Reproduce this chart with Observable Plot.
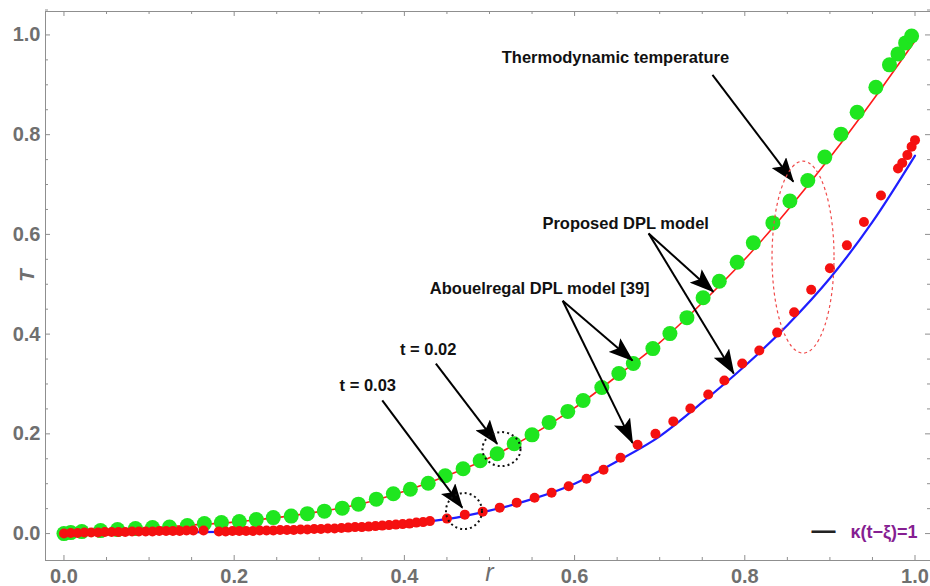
<!DOCTYPE html>
<html>
<head>
<meta charset="utf-8">
<script src="https://cdn.jsdelivr.net/npm/d3@7"></script>
<script src="https://cdn.jsdelivr.net/npm/@observablehq/plot@0.6"></script>
<style>
  html, body { margin: 0; padding: 0; background: #fff; }
  svg { display: block; }
</style>
</head>
<body>
<div id="chart"></div>
<script>
// Proposed DPL model, t = 0.02 (green dots)
const greenR = [0.000, 0.008, 0.021, 0.043, 0.063, 0.084, 0.104, 0.124, 0.145, 0.165,
  0.185, 0.206, 0.226, 0.246, 0.267, 0.286, 0.306, 0.327, 0.346, 0.367,
  0.387, 0.407, 0.428, 0.448, 0.469, 0.489, 0.509, 0.529, 0.550, 0.570,
  0.592, 0.610, 0.632, 0.652, 0.669, 0.692, 0.712, 0.732, 0.751, 0.770,
  0.791, 0.810, 0.833, 0.853, 0.874, 0.894, 0.913, 0.932, 0.954, 0.970,
  0.980, 0.989, 0.996];
const greenT = [0.000, 0.002, 0.004, 0.006, 0.008, 0.010, 0.012, 0.013, 0.016, 0.020,
  0.022, 0.024, 0.028, 0.032, 0.035, 0.040, 0.045, 0.051, 0.059, 0.069,
  0.080, 0.089, 0.101, 0.116, 0.130, 0.146, 0.160, 0.180, 0.198, 0.223,
  0.245, 0.267, 0.293, 0.321, 0.341, 0.371, 0.401, 0.433, 0.473, 0.506,
  0.544, 0.583, 0.623, 0.667, 0.708, 0.755, 0.801, 0.845, 0.895, 0.940,
  0.962, 0.984, 0.998];

// Abouelregal DPL model, t = 0.03 (red dots)
const redR = [0.000, 0.008, 0.016, 0.024, 0.032, 0.040, 0.048, 0.056, 0.064, 0.072,
  0.080, 0.088, 0.096, 0.104, 0.112, 0.120, 0.128, 0.136, 0.144, 0.152,
  0.164,
  0.182, 0.190, 0.198, 0.206, 0.214, 0.222, 0.230, 0.238, 0.246, 0.254,
  0.262, 0.270, 0.278, 0.286, 0.294, 0.302, 0.310, 0.318, 0.326, 0.334,
  0.342, 0.350, 0.358, 0.366, 0.374, 0.382, 0.390, 0.398, 0.406, 0.414,
  0.422, 0.430,
  0.450, 0.471, 0.492, 0.512, 0.532, 0.553, 0.573, 0.593, 0.614, 0.634,
  0.654, 0.674, 0.695, 0.716, 0.736, 0.757, 0.776, 0.797, 0.817, 0.838,
  0.858, 0.878, 0.900, 0.920, 0.940, 0.960, 0.980, 0.985, 0.991, 0.996,
  1.000];
const redT = [0.000, 0.001, 0.001, 0.002, 0.002, 0.002, 0.003, 0.003, 0.003, 0.003,
  0.004, 0.004, 0.004, 0.004, 0.005, 0.005, 0.005, 0.005, 0.006, 0.006,
  0.006,
  0.004, 0.004, 0.005, 0.005, 0.005, 0.005, 0.006, 0.006, 0.006, 0.007,
  0.007, 0.007, 0.008, 0.008, 0.009, 0.009, 0.010, 0.010, 0.011, 0.012,
  0.013, 0.013, 0.014, 0.015, 0.016, 0.017, 0.018, 0.019, 0.020, 0.022,
  0.023, 0.025,
  0.030, 0.038, 0.044, 0.052, 0.062, 0.072, 0.082, 0.095, 0.110, 0.128,
  0.152, 0.178, 0.200, 0.225, 0.251, 0.279, 0.307, 0.341, 0.367, 0.403,
  0.444, 0.489, 0.532, 0.578, 0.625, 0.678, 0.732, 0.743, 0.759, 0.776,
  0.789];

// Continuous solutions drawn under the dots
const curveR = [0.00, 0.05, 0.10, 0.15, 0.20, 0.25, 0.30, 0.35, 0.40, 0.45,
  0.50, 0.55, 0.60, 0.65, 0.70, 0.75, 0.80, 0.85, 0.90, 0.95, 1.00];
const redCurveT = [0.000, 0.006, 0.011, 0.017, 0.023, 0.032, 0.044, 0.060, 0.085, 0.116,
  0.152, 0.198, 0.252, 0.316, 0.383, 0.463, 0.550, 0.648, 0.754, 0.868, 0.988];
const blueCurveT = [0.000, 0.001, 0.003, 0.003, 0.004, 0.006, 0.009, 0.013, 0.020, 0.029,
  0.046, 0.069, 0.100, 0.145, 0.195, 0.263, 0.336, 0.418, 0.512, 0.625, 0.758];

// Axis ticks
const majorTicks = [0, 0.2, 0.4, 0.6, 0.8, 1.0];
const minorTicks = [0.05, 0.1, 0.15, 0.25, 0.3, 0.35, 0.45, 0.5, 0.55, 0.65, 0.7, 0.75,
  0.85, 0.9, 0.95, 1.05];

// Annotation labels and their arrows
const noteText = ["Thermodynamic temperature", "Proposed DPL model",
  "Abouelregal DPL model [39]", "t = 0.02", "t = 0.03"];
const noteR = [0.648, 0.660, 0.559, 0.428, 0.357];
const noteT = [0.9545, 0.6216, 0.4913, 0.3690, 0.2968];

const arrowR1 = [0.762, 0.687, 0.687, 0.586, 0.586, 0.437, 0.374];
const arrowT1 = [0.920, 0.602, 0.602, 0.467, 0.467, 0.341, 0.267];
const arrowR2 = [0.857, 0.763, 0.787, 0.668, 0.668, 0.509, 0.468];
const arrowT2 = [0.706, 0.485, 0.321, 0.347, 0.182, 0.180, 0.052];

const xDomain = [-0.0217, 1.0182];
const yDomain = [-0.054, 1.047];

const greenDots = greenR.map((r, i) => ({r, T: greenT[i]}));
const redDots = redR.map((r, i) => ({r, T: redT[i]}));
const redCurve = curveR.map((r, i) => ({r, T: redCurveT[i]}));
const blueCurve = curveR.map((r, i) => ({r, T: blueCurveT[i]}));
const notes = noteText.map((text, i) => ({text, r: noteR[i], T: noteT[i]}));
const arrows = arrowR1.map((r1, i) => ({r1, T1: arrowT1[i], r2: arrowR2[i], T2: arrowT2[i]}));

const W = 930, H = 586;
const mL = 45, mR = 0, mT = 11, mB = 26;
const frameW = W - mL - mR, frameH = H - mT - mB;
const axisGray = "#8f8f8f";
const labelGray = "#6f6f6f";
const fmt = d3.format(".1f");

const chart = Plot.plot({
  width: W,
  height: H,
  marginLeft: mL,
  marginRight: mR,
  marginTop: mT,
  marginBottom: mB,
  x: {domain: xDomain},
  y: {domain: yDomain},
  style: {
    fontFamily: "'Liberation Sans', Arial, sans-serif",
    fontSize: "20px",
    fontWeight: "bold",
    color: labelGray,
    background: "#fff",
    overflow: "visible"
  },
  marks: [
    // frame (left, top, bottom)
    Plot.ruleX([xDomain[0]], {stroke: axisGray}),
    Plot.ruleY([yDomain[0], yDomain[1]], {stroke: axisGray}),
    // inward ticks on all four sides
    Plot.tickX(majorTicks, {x: d => d, insetTop: frameH - 5, stroke: axisGray}),
    Plot.tickX(minorTicks.filter(d => d <= 1), {x: d => d, insetTop: frameH - 3, stroke: axisGray}),
    Plot.tickX(majorTicks, {x: d => d, insetBottom: frameH - 5, stroke: axisGray}),
    Plot.tickX(minorTicks.filter(d => d <= 1), {x: d => d, insetBottom: frameH - 3, stroke: axisGray}),
    Plot.tickY(majorTicks, {y: d => d, insetRight: frameW - 5, stroke: axisGray}),
    Plot.tickY(minorTicks, {y: d => d, insetRight: frameW - 3, stroke: axisGray}),
    Plot.tickY(majorTicks, {y: d => d, insetLeft: frameW - 5, stroke: axisGray}),
    Plot.tickY(minorTicks, {y: d => d, insetLeft: frameW - 3, stroke: axisGray}),
    // tick labels
    Plot.axisX(majorTicks, {anchor: "bottom", tickSize: 0, tickPadding: 8, tickFormat: fmt, label: null}),
    Plot.axisY(majorTicks, {anchor: "left", tickSize: 0, tickPadding: 5, tickFormat: fmt, label: null}),
    // axis titles
    Plot.text(["r"], {x: 0.5, frameAnchor: "bottom", dy: 20, fontStyle: "italic", fontWeight: "normal",
      fontSize: 25, fill: labelGray}),
    Plot.text(["T"], {frameAnchor: "left", dx: -18, dy: -4, rotate: -90, fontStyle: "italic",
      fontWeight: "bold", fontSize: 21, fill: labelGray}),
    // solution curves
    Plot.line(redCurve, {x: "r", y: "T", stroke: "#ff1a1a", strokeWidth: 1.6, curve: "monotone-x"}),
    Plot.line(blueCurve, {x: "r", y: "T", stroke: "#1f1fff", strokeWidth: 2.2, curve: "monotone-x"}),
    // sampled points
    Plot.dot(greenDots, {x: "r", y: "T", r: 7.5, fill: "#1fe61f"}),
    Plot.dot(redDots, {x: "r", y: "T", r: 5, fill: "#f51010"}),
    // callouts
    Plot.link(arrows, {x1: "r1", y1: "T1", x2: "r2", y2: "T2", stroke: "#000", strokeWidth: 2}),
    Plot.text(notes, {x: "r", y: "T", text: "text", fill: "#111", fontSize: 16.5, fontWeight: "bold"}),
    // legend entry
    Plot.text(["\u2014"], {frameAnchor: "bottom-right", dx: -95, dy: -23, textAnchor: "end",
      fill: "#222", fontSize: 24, fontWeight: "bold"}),
    Plot.text(["\u03ba(t\u2212\u03be)=1"], {frameAnchor: "bottom-right", dx: -13, dy: -23, textAnchor: "end",
      fill: "#861f92", fontSize: 18, fontWeight: "bold"})
  ]
});

// filled arrowheads on the callout links
const svg = d3.select(chart);
svg.append("defs").append("marker")
  .attr("id", "callout-head")
  .attr("viewBox", "0 0 10 10")
  .attr("preserveAspectRatio", "none")
  .attr("refX", 9.5)
  .attr("refY", 5)
  .attr("markerUnits", "userSpaceOnUse")
  .attr("markerWidth", 25)
  .attr("markerHeight", 18)
  .attr("orient", "auto")
  .append("path")
  .attr("d", "M0,0L10,5L0,10L2,5Z")
  .attr("fill", "#000");
svg.selectAll('g[aria-label="link"] path').attr("marker-end", "url(#callout-head)");

// dotted rings marking the two time instants and the dashed ring around the gap
const sx = chart.scale("x"), sy = chart.scale("y");
const rings = [
  {r: 0.5147, T: 0.1684, rx: 19, ry: 17, stroke: "#111", width: 2, dash: "2,3"},
  {r: 0.4706, T: 0.0441, rx: 18, ry: 18, stroke: "#111", width: 2, dash: "2,3"},
  {r: 0.8690, T: 0.5534, rx: 31, ry: 96, stroke: "#f04a4a", width: 1.2, dash: "3,3"}
];
svg.append("g").attr("aria-label", "rings")
  .selectAll("ellipse").data(rings).join("ellipse")
  .attr("cx", d => sx.apply(d.r))
  .attr("cy", d => sy.apply(d.T))
  .attr("rx", d => d.rx)
  .attr("ry", d => d.ry)
  .attr("fill", "none")
  .attr("stroke", d => d.stroke)
  .attr("stroke-width", d => d.width)
  .attr("stroke-dasharray", d => d.dash);

document.getElementById("chart").append(chart);
</script>
</body>
</html>
